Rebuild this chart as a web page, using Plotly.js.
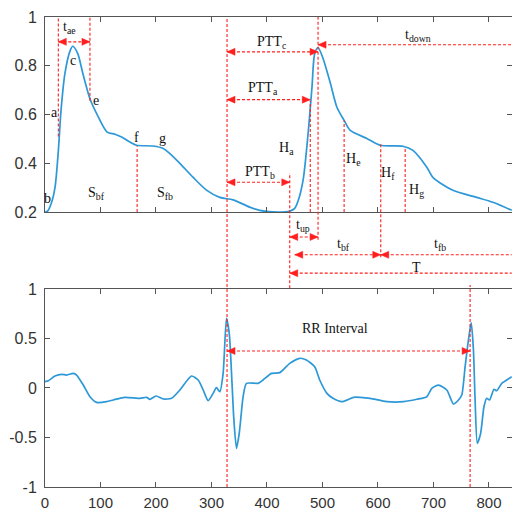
<!DOCTYPE html>
<html><head><meta charset="utf-8">
<script src="https://cdn.plot.ly/plotly-3.0.1.min.js"></script>
<style>html,body{margin:0;padding:0;background:#fff}</style>
</head><body><div id="chart" style="width:512px;height:513px"></div>
<script>
// PPG (top panel)
const ppgX = [0,5,12,18,24,29,36,45,50,59,68,81,94,112,126,138,153,165,195,213,225,243,267,291,315,339,369,387,420,441,450,456,465,474,481,486,492,501,514,526,539,550,580,604,645,663,688,699,735,778,807,841];
const ppgY = [0.20,0.205,0.24,0.30,0.45,0.62,0.77,0.86,0.88,0.85,0.77,0.665,0.60,0.528,0.519,0.508,0.487,0.474,0.471,0.461,0.44,0.40,0.342,0.29,0.26,0.25,0.22,0.207,0.20,0.204,0.215,0.245,0.33,0.52,0.71,0.85,0.875,0.83,0.73,0.63,0.576,0.535,0.502,0.474,0.470,0.453,0.384,0.342,0.289,0.26,0.24,0.207];
// ECG (bottom panel)
const ecgX = [0,6,18,30,39,51,57,69,81,93,111,123,144,171,183,189,200,213,228,243,264,276,285,294,303,309,315,321,327,332,337,340,345,350,357,363,384,393,408,423,441,459,471,486,495,508,519,535,556,568,586,616,646,670,688,697,709,724,736,745,751,757,763,768,772,775,779,785,791,796,801,809,814,823,832,841];
const ecgY = [0.064,0.074,0.121,0.138,0.131,0.148,0.131,0.03,-0.088,-0.145,-0.138,-0.121,-0.094,-0.104,-0.094,-0.114,-0.081,-0.111,-0.104,-0.02,0.121,0.081,-0.02,-0.128,-0.054,0.003,-0.037,0.148,0.704,0.552,0.047,-0.29,-0.609,-0.458,-0.088,0.047,0.047,0.081,0.148,0.155,0.249,0.30,0.283,0.215,0.081,-0.054,-0.104,-0.138,-0.094,-0.094,-0.104,-0.138,-0.138,-0.114,-0.088,-0.003,0.03,-0.02,-0.162,-0.121,-0.071,0.215,0.485,0.66,0.384,-0.121,-0.559,-0.458,-0.189,-0.104,-0.121,-0.013,-0.027,0.047,0.081,0.114];

const topTicks = [0.2,0.4,0.6,0.8,1];
const topTickText = ['0.2','0.4','0.6','0.8','1'];
const botTicks = [-1,-0.5,0,0.5,1];
const botTickText = ['-1','-0.5','0','0.5','1'];
const xTicks = [0,100,200,300,400,500,600,700,800];

// Vertical marker lines: x, y0, y1, ref ('y2' top panel data, 'paper')
const vLineX   = [24, 81, 166, 328, 492, 478, 441, 539, 605, 649, 766];
const vLineY0  = [0.51, 0.657, 0.2, 0, 0.526, 0.2, 0.423, 0.2, 0.489, 0.2, 0];
const vLineY1  = [1, 1, 0.47, 1, 1, 0.655, 0.668, 0.575, 0.730, 0.465, 0.430];
const vLineRef = ['y2','y2','y2','paper','paper','y2','paper','y2','paper','y2','paper'];

// Horizontal arrows: x0, x1, y, ref, heads ('both' | 'left')
const arrX0   = [24, 328, 492, 328, 328, 441, 450, 605, 441, 328];
const arrX1   = [81, 492, 841, 478, 441, 492, 605, 841, 841, 766];
const arrY    = [0.898, 0.857, 0.886, 0.661, 0.322, 0.532, 0.494, 0.494, 0.455, 0.374];
const arrRef  = ['y2','y2','y2','y2','y2','paper','paper','paper','paper','y'];
const arrHead = ['both','both','left','both','both','both','both','left','left','both'];

// Text labels
const lblText = ['t<sub>ae</sub>','a','b','c','e','f','g','S<sub>bf</sub>','S<sub>fb</sub>','PTT<sub>c</sub>','t<sub>down</sub>','PTT<sub>a</sub>','H<sub>a</sub>','PTT<sub>b</sub>','H<sub>e</sub>','H<sub>f</sub>','H<sub>g</sub>','t<sub>up</sub>','t<sub>bf</sub>','t<sub>fb</sub>','T','RR Interval'];
const lblX = [45,17,5,51,92,164,212,93,216,409,672,393,436,387,555,618,670,465,537,712,670,522];
const lblY = [0.958,0.609,0.256,0.822,0.658,0.507,0.503,0.276,0.276,0.896,0.925,0.707,0.461,0.363,0.416,0.359,0.289,0.557,0.515,0.515,0.466,0.596];
const lblRef = ['y2','y2','y2','y2','y2','y2','y2','y2','y2','y2','y2','y2','y2','y2','y2','y2','y2','paper','paper','paper','paper','y'];

const RED = 'rgb(255,30,30)';
const BLUE = 'rgb(45,152,215)';
const DASH = '3px,2px';

const traces = [
  {x: ecgX, y: ecgY, xaxis:'x', yaxis:'y', mode:'lines', line:{color:BLUE, width:1.7, shape:'spline', smoothing:0.6}, hoverinfo:'skip'},
  {x: ppgX, y: ppgY, xaxis:'x2', yaxis:'y2', mode:'lines', line:{color:BLUE, width:1.7, shape:'spline', smoothing:0.8}, hoverinfo:'skip'}
];

const shapes = [];
const annotations = [];
vLineX.forEach((x,i)=>{
  shapes.push({type:'line', xref: vLineRef[i]==='y2' ? 'x2':'x', yref: vLineRef[i], x0:x, x1:x, y0:vLineY0[i], y1:vLineY1[i], line:{color:RED, width:1.1, dash:DASH}, layer:'above'});
});
function head(xr, yr, x, y, dir) {
  // dir -1: points left, +1: points right (pixel-sized triangle anchored at tip)
  const L = 8*(-dir), W = 3.5;
  return {type:'path', xref:xr, yref:yr, xsizemode:'pixel', ysizemode:'pixel', xanchor:x, yanchor:y,
    path:`M0,0 L${L},${W} L${L},${-W} Z`, fillcolor:RED, line:{color:RED, width:0.5}, layer:'above'};
}
arrX0.forEach((x0,i)=>{
  const xr = arrRef[i]==='y2' ? 'x2' : 'x';
  shapes.push({type:'line', xref:xr, yref:arrRef[i], x0:x0, x1:arrX1[i], y0:arrY[i], y1:arrY[i], line:{color:RED, width:1.1, dash:DASH}, layer:'above'});
  shapes.push(head(xr, arrRef[i], x0, arrY[i], -1));
  if (arrHead[i]==='both') shapes.push(head(xr, arrRef[i], arrX1[i], arrY[i], 1));
});
lblText.forEach((t,i)=>{
  annotations.push({x:lblX[i], y:lblY[i], xref: lblRef[i]==='y2' ? 'x2':'x', yref:lblRef[i], text:t, showarrow:false,
    font:{family:'Liberation Serif, Times New Roman, serif', size:14, color:'#111'}, xanchor:'center', yanchor:'middle'});
});

const axCommon = {showgrid:false, zeroline:false, showline:true, linecolor:'#555', linewidth:1, ticks:'inside', ticklen:5, tickcolor:'#555', mirror:'ticks'};
const layout = {
  width:512, height:513, margin:{l:45, r:0, t:17, b:26},
  paper_bgcolor:'#fff', plot_bgcolor:'#fff', showlegend:false,
  xaxis: Object.assign({}, axCommon, {range:[0,841.5], tickvals:xTicks, domain:[0,1], anchor:'y',
     tickfont:{family:'Liberation Sans Narrow, Arial Narrow, Liberation Sans, sans-serif', size:15, color:'#333'}, ticklabelstandoff:2}),
  yaxis: Object.assign({}, axCommon, {range:[-1,1], domain:[0,0.4213], anchor:'x', tickvals:botTicks, ticktext:botTickText,
     tickfont:{family:'Liberation Sans, Arial, sans-serif', size:16, color:'#333'}, ticklabelstandoff:4}),
  xaxis2: Object.assign({}, axCommon, {range:[0,841.5], tickvals:xTicks, showticklabels:false, domain:[0,1], anchor:'y2'}),
  yaxis2: Object.assign({}, axCommon, {range:[0.2,1], domain:[0.585,1], anchor:'x2', tickvals:topTicks, ticktext:topTickText,
     tickfont:{family:'Liberation Sans, Arial, sans-serif', size:16, color:'#333'}, ticklabelstandoff:4}),
  shapes: shapes, annotations: annotations
};
Plotly.newPlot('chart', traces, layout, {staticPlot:true, displayModeBar:false});
</script></body></html>
